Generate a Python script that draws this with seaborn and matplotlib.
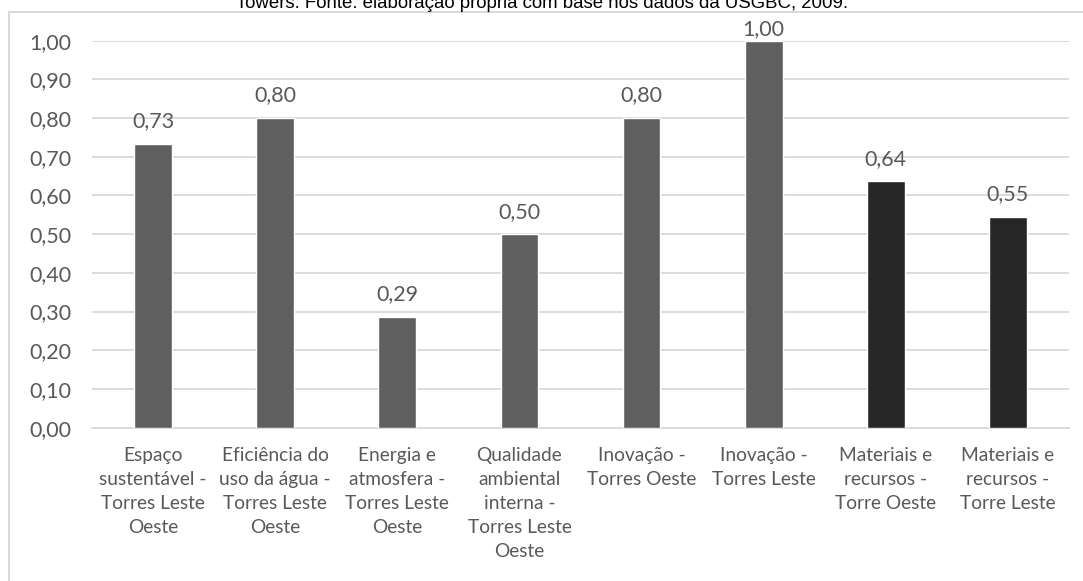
import matplotlib
matplotlib.use("Agg")
import matplotlib.pyplot as plt
import seaborn as sns
from matplotlib.patches import Rectangle

# data
categorias = [
    "Espaço\nsustentável -\nTorres Leste\nOeste",
    "Eficiência do\nuso da água -\nTorres Leste\nOeste",
    "Energia e\natmosfera -\nTorres Leste\nOeste",
    "Qualidade\nambiental\ninterna -\nTorres Leste\nOeste",
    "Inovação -\nTorres Oeste",
    "Inovação -\nTorres Leste",
    "Materiais e\nrecursos -\nTorre Oeste",
    "Materiais e\nrecursos -\nTorre Leste",
]
valores = [0.733, 0.80, 0.286, 0.50, 0.80, 1.00, 0.636, 0.545]
cores = ["#5f5f5f"] * 6 + ["#262626"] * 2
titulo = "Towers. Fonte: elaboração própria com base nos dados da USGBC, 2009."

sns.set_style("white")
plt.rcParams["font.family"] = ["Lato", "DejaVu Sans"]
texto = "#595959"

fig = plt.figure(figsize=(10.83, 5.81), dpi=100)
ax = fig.add_axes([92 / 1083, 1 - 427.6 / 581, 977 / 1083, 387 / 581])

sns.barplot(x=categorias, y=valores, hue=categorias, palette=cores,
            legend=False, width=0.31, saturation=1, ax=ax, zorder=3)

for cont, v in zip(ax.containers, valores):
    # the top label is squeezed down to stay inside the chart area
    pad = 1 if v >= 1.0 else 9
    ax.bar_label(cont, labels=[f"{v:.2f}".replace(".", ",")], padding=pad,
                 fontsize=15.5, color=texto)

ax.set_ylim(0, 1.0)
ax.set_xlim(-0.5, 7.5)
ax.set_yticks([i / 10 for i in range(11)])
ax.set_yticklabels([f"{i / 10:.2f}".replace(".", ",") for i in range(11)])
ax.grid(axis="y", color="#d9d9d9", lw=1.3, zorder=0)
for s in ["top", "right", "left"]:
    ax.spines[s].set_visible(False)
ax.spines["bottom"].set_color("#d9d9d9")
ax.spines["bottom"].set_linewidth(1.3)
ax.tick_params(axis="y", length=0, pad=15, labelsize=15.5, labelcolor=texto)
ax.tick_params(axis="x", length=0, pad=14, labelsize=13.8, labelcolor=texto)
for lbl in ax.get_xticklabels():
    lbl.set_linespacing(1.5)
ax.set_xlabel("")
ax.set_ylabel("")

# chart border and cut-off caption at top
fig.patches.append(Rectangle((9 / 1083, -0.1), 1.2, 1 - 12 / 581 + 0.1,
                             transform=fig.transFigure, fill=False,
                             edgecolor="#d9d9d9", lw=1.5))
fig.text(0.5, 1 - 8 / 581, titulo, ha="center", va="baseline",
         fontsize=13.4, family="Liberation Sans", color="black")

fig.savefig("out.png", dpi=100)
